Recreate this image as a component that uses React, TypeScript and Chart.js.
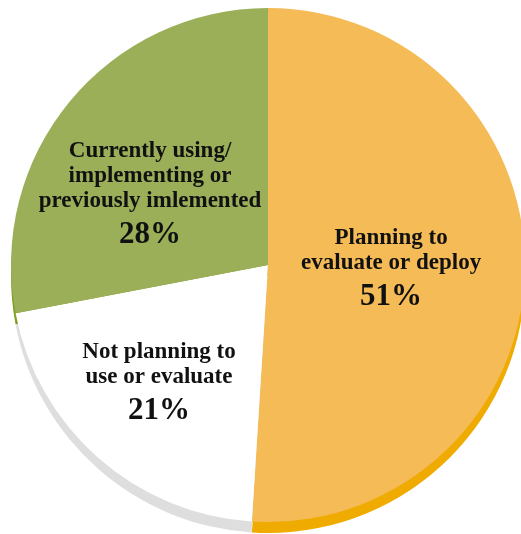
import React, { useEffect, useRef } from "react";
import { Chart, registerables } from "chart.js";

Chart.register(...registerables);

const categories = [
  "Planning to evaluate or deploy",
  "Not planning to use or evaluate",
  "Currently using/ implementing or previously imlemented",
];
const labelLines = [
  ["Planning to", "evaluate or deploy"],
  ["Not planning to", "use or evaluate"],
  ["Currently using/", "implementing or", "previously imlemented"],
];
const values = [51, 21, 28];
const faceColors = ["#F4BB57", "#FFFFFF", "#9AAF57"];
const rimColors = ["#F0AB00", "#DEDEDE", "#7E9E1E"];

// label anchor as fraction of radius relative to pie centre (first line centre)
const labelAnchors = [
  { fx: 0.479, fy: -0.105 },
  { fx: -0.424, fy: 0.339 },
  { fx: -0.459, fy: -0.444 },
];

const FONT = "'Liberation Serif', 'Times New Roman', serif";

const rimPlugin = {
  id: "rim",
  beforeDatasetsDraw(chart: any) {
    const ctx = chart.ctx;
    const meta = chart.getDatasetMeta(0);
    ctx.save();
    ctx.translate(0, 11);
    meta.data.forEach((arc: any, i: number) => {
      const { x, y, startAngle, endAngle, outerRadius } = arc.getProps(
        ["x", "y", "startAngle", "endAngle", "outerRadius"],
        true
      );
      ctx.beginPath();
      ctx.moveTo(x, y);
      ctx.arc(x, y, outerRadius, startAngle, endAngle);
      ctx.closePath();
      ctx.fillStyle = rimColors[i];
      ctx.fill();
    });
    ctx.restore();
  },
};

const labelPlugin = {
  id: "sliceLabels",
  afterDatasetsDraw(chart: any) {
    const ctx = chart.ctx;
    const meta = chart.getDatasetMeta(0);
    ctx.save();
    ctx.fillStyle = "#111111";
    ctx.textAlign = "center";
    ctx.textBaseline = "middle";
    meta.data.forEach((arc: any, i: number) => {
      const { x, y, outerRadius } = arc.getProps(["x", "y", "outerRadius"], true);
      const a = labelAnchors[i];
      const lx = x + a.fx * outerRadius;
      const ly = y + a.fy * outerRadius;
      ctx.font = `bold 23px ${FONT}`;
      labelLines[i].forEach((line, j) => {
        ctx.fillText(line, lx, ly + j * 25);
      });
      const lastY = ly + (labelLines[i].length - 1) * 25;
      ctx.font = `bold 31px ${FONT}`;
      ctx.fillText(`${values[i]}%`, lx, lastY + 34);
    });
    ctx.restore();
  },
};

export default function App() {
  const ref = useRef<HTMLCanvasElement | null>(null);
  useEffect(() => {
    if (!ref.current) return;
    const chart = new Chart(ref.current, {
      type: "pie",
      data: {
        labels: categories,
        datasets: [
          {
            data: values,
            backgroundColor: faceColors,
            borderWidth: 0,
          },
        ],
      },
      options: {
        responsive: false,
        animation: false,
        layout: { padding: { left: 8, right: 8, top: 8, bottom: 18 } },
        plugins: {
          legend: { display: false },
          tooltip: { enabled: false },
        },
      },
      plugins: [rimPlugin, labelPlugin],
    });
    return () => chart.destroy();
  }, []);
  return (
    <div
      style={{
        position: "fixed",
        left: 0,
        top: 0,
        width: 521,
        height: 534,
        overflow: "hidden",
        background: "#fff",
      }}
    >
      <canvas ref={ref} width={536} height={540} style={{ display: "block", width: 536, height: 540 }} />
    </div>
  );
}
